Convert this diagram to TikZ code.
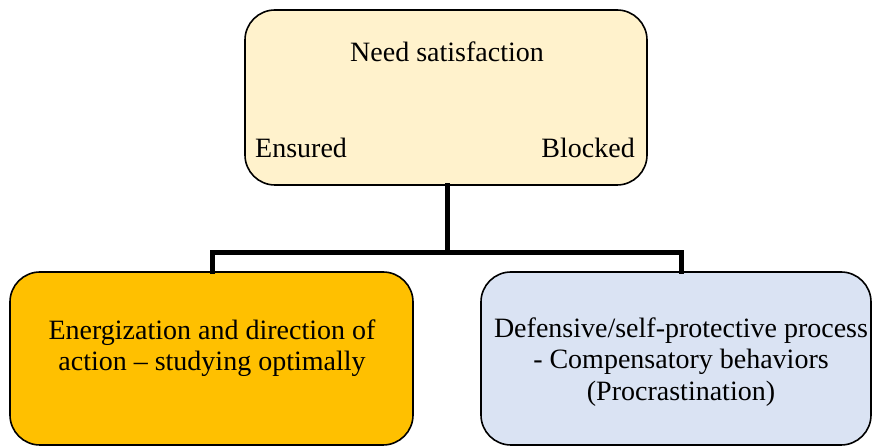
\documentclass[tikz,border=0pt]{standalone}
\usepackage{fontspec}
\setmainfont{Liberation Serif}
\definecolor{needfill}{HTML}{FFF2CC}
\definecolor{goodfill}{HTML}{FFC000}
\definecolor{badfill}{HTML}{DAE3F3}
\begin{document}
\begin{tikzpicture}[x=1pt,y=1pt,
  box/.style={draw=black, line width=1.6pt, rounded corners=30pt, inner sep=0pt},
  lbl/.style={inner sep=0pt, font=\fontsize{28}{31.5}\selectfont, align=center},
  link/.style={line width=5pt, line cap=rect}]
\useasboundingbox (0,0) rectangle (873,446);
% boxes
\node[box, fill=needfill, minimum width=402pt, minimum height=175pt] (need) at (446,348.5) {};
\node[box, fill=goodfill, minimum width=403pt, minimum height=173pt] (good) at (211.5,87.5) {};
\node[box, fill=badfill, minimum width=390pt, minimum height=173pt] (bad) at (676,87.5) {};
% texts
\node[lbl, anchor=base] (needtxt) at (447,384) {Need satisfaction};
\node[lbl, anchor=base west] (ens) at (255,288) {Ensured};
\node[lbl, anchor=base east] (blk) at (635,288) {Blocked};
\node[lbl] (goodtxt) at (212,98) {Energization and direction of\\action -- studying optimally};
\node[lbl] (badtxt) at (681,84) {Defensive/self-protective process\\- Compensatory behaviors\\(Procrastination)};
% tree connector
\coordinate (fork) at (447,193);
\draw[link] (need.south -| fork) -- (fork);
\draw[line width=5pt] (212,193) -- (681,193);
\draw[link] (fork -| 212,0) -- (212,174);
\draw[link] (fork -| 681,0) -- (681,174);
\end{tikzpicture}
\end{document}
